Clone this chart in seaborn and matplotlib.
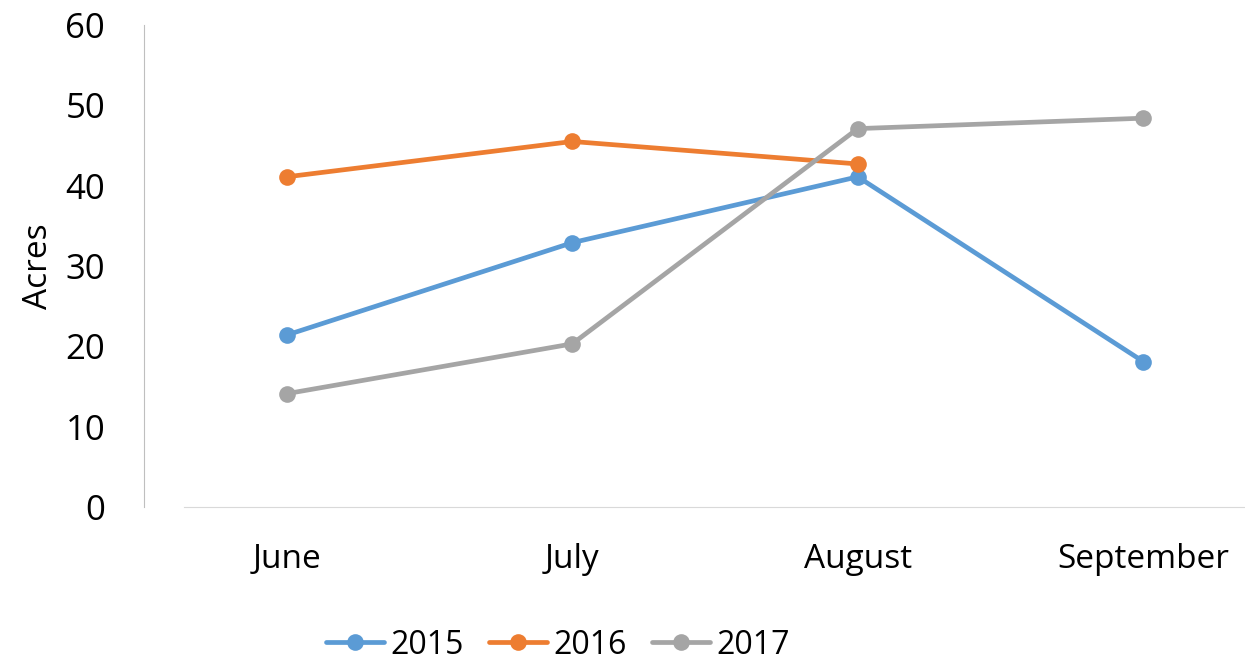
import numpy as np
import pandas as pd
import matplotlib
matplotlib.use("Agg")
import matplotlib.pyplot as plt
import seaborn as sns

months = ["June", "July", "August", "September"]
acres_2015 = [21.4, 32.9, 41.1, 18.1]
acres_2016 = [41.1, 45.5, 42.7, np.nan]
acres_2017 = [14.1, 20.3, 47.1, 48.4]
years = ["2015", "2016", "2017"]
colors = ["#5B9BD5", "#ED7D31", "#A5A5A5"]

df = pd.DataFrame({
    "Month": months * 3,
    "Acres": acres_2015 + acres_2016 + acres_2017,
    "Year": [y for y in years for _ in months],
})
df["x"] = df["Month"].map({m: i for i, m in enumerate(months)})

sns.set_style("white")
plt.rcParams["font.family"] = ["Open Sans", "DejaVu Sans"]
plt.rcParams["text.color"] = "black"
plt.rcParams["xtick.color"] = "black"
plt.rcParams["ytick.color"] = "black"
plt.rcParams["axes.labelcolor"] = "black"

fig = plt.figure(figsize=(12.45, 6.67), dpi=100)
ax = fig.add_axes([144 / 1245, 0.240, (1286 - 144) / 1245, 0.7225])

sns.lineplot(data=df.dropna(), x="x", y="Acres", hue="Year", palette=colors,
             marker="o", markersize=12, markeredgewidth=0, linewidth=3.4,
             ax=ax, legend=True)

ax.set_xlim(-0.5, 3.5)
ax.set_ylim(0, 60)
ax.set_yticks(range(0, 61, 10))
ax.set_xticks(range(len(months)))
ax.set_xticklabels(months, fontsize=24)
ax.tick_params(axis="y", labelsize=25, length=0, pad=28)
ax.tick_params(axis="x", length=0, pad=26)
ax.set_xlabel("")
ax.set_ylabel("Acres", fontsize=24)
ax.yaxis.set_label_coords(-0.078, 0.5)

for s in ["top", "right"]:
    ax.spines[s].set_visible(False)
ax.spines["left"].set_color("#BFBFBF")
ax.spines["bottom"].set_color("#D9D9D9")
ax.spines["bottom"].set_bounds(-0.36, 3.5)

handles, labels = ax.get_legend_handles_labels()
ax.get_legend().remove()
fig.legend(handles, labels, loc="center", bbox_to_anchor=(558 / 1245, 1 - 645 / 667),
           ncol=3, frameon=False, handlelength=1.8, handletextpad=0.2,
           columnspacing=0.8, fontsize=23)

fig.savefig("out.png", dpi=100)
